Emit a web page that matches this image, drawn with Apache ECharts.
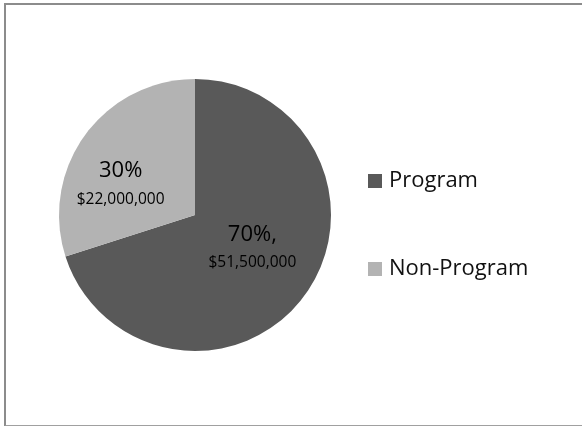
<!DOCTYPE html>
<html>
<head>
<meta charset="utf-8">
<script src="https://cdn.jsdelivr.net/npm/echarts@6/dist/echarts.min.js"></script>
<style>
html,body{margin:0;padding:0;background:#fff;}
#frame{position:absolute;left:4px;top:3px;width:600px;height:420px;border-left:2px solid #8c8c8c;border-top:2px solid #8c8c8c;border-bottom:2px solid #a0a0a0;}
#chart{position:absolute;left:0;top:0;width:582px;height:426px;}
</style>
</head>
<body>
<div id="frame"></div>
<div id="chart"></div>
<script>
const categories = ['Program', 'Non-Program'];
const values = [51500000, 22000000];
const pctSuffix = [',', ''];
const colors = ['#595959', '#b3b3b3'];
const labelOffsets = [[0, -9], [-17, 11]];

const chart = echarts.init(document.getElementById('chart'), null, {renderer: 'canvas'});
const fmtMoney = v => '$' + v.toLocaleString('en-US');
const data = categories.map((c, i) => ({
  name: c,
  value: values[i],
  itemStyle: {color: colors[i]},
  label: {offset: labelOffsets[i]}
}));
chart.setOption({
  animation: false,
  textStyle: {fontFamily: 'Open Sans'},
  legend: {
    orient: 'vertical',
    left: 363,
    top: 165,
    icon: 'rect',
    itemWidth: 14,
    itemHeight: 14,
    itemGap: 66,
    data: categories,
    textStyle: {fontSize: 22, color: '#111', fontFamily: 'Open Sans', padding: [0, 0, 0, 2]}
  },
  series: [{
    type: 'pie',
    center: [195, 215],
    radius: [0, 136],
    startAngle: 90,
    clockwise: true,
    data: data,
    labelLine: {show: false},
    label: {
      show: true,
      position: 'inside',
      formatter: p => '{pct|' + Math.round(p.percent) + '%' + pctSuffix[p.dataIndex] + '}\n{val|' + fmtMoney(p.value) + '}',
      rich: {
        pct: {fontSize: 22, lineHeight: 30, color: '#000', fontFamily: 'Open Sans'},
        val: {fontSize: 15.5, lineHeight: 26, color: '#000', fontFamily: 'Open Sans'}
      }
    },
    emphasis: {disabled: true}
  }]
});
</script>
</body>
</html>
